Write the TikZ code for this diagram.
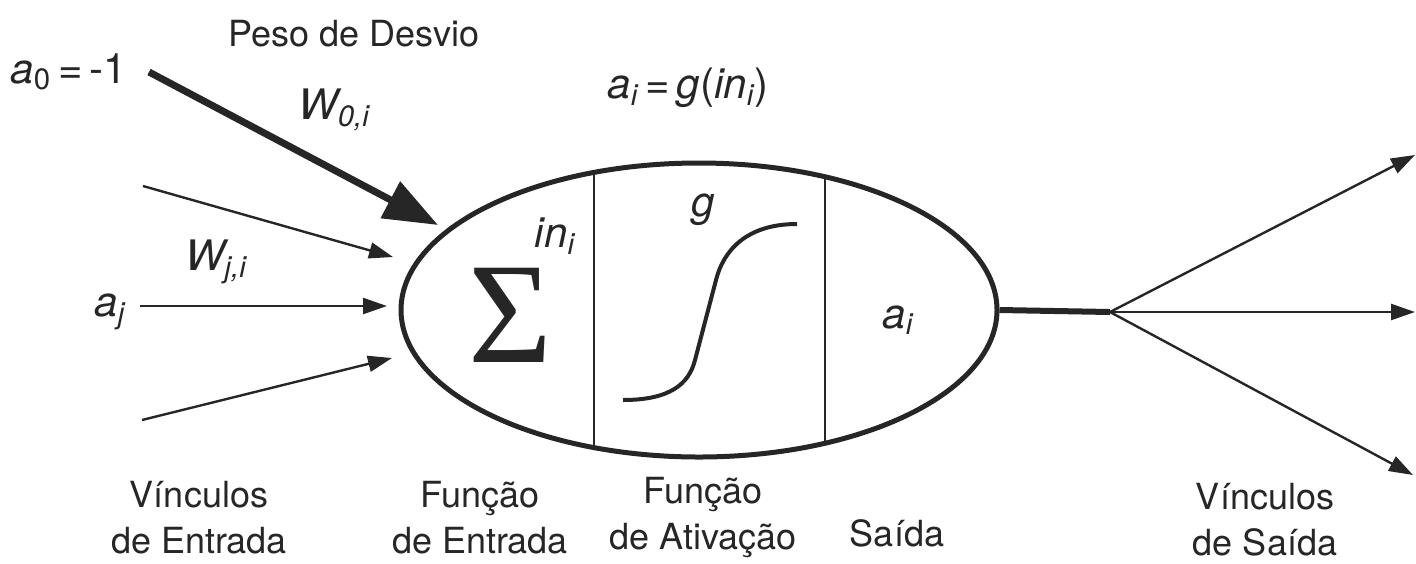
\documentclass[tikz,border=0pt]{standalone}
\usepackage{amsmath}
\usepackage{fontspec}
\setsansfont{TeX Gyre Heros}
\newfontfamily\sigmafont{Liberation Serif}
\usetikzlibrary{shapes.geometric,arrows.meta,positioning}

\newcommand{\vsub}[2]{$\textit{#1}_{\textit{#2}}$}

\begin{document}
\begin{tikzpicture}[
    x=0.5pt, y=-0.5pt,
    every node/.style={font=\sffamily\fontsize{18}{23}\selectfont, inner sep=0pt, text=black!85},
    lbl/.style={align=center},
    ital/.style={font=\sffamily\fontsize{21}{25}\selectfont},
    link/.style={-{Triangle[length=12pt, width=8pt]}, line width=1.2pt, draw=black!85},
    bias/.style={-{Triangle[length=27pt, width=20pt]}, line width=3.5pt, draw=black!85},
    unit/.style={draw=black!85, ellipse, line width=2.5pt, minimum width=298pt, minimum height=147pt}
  ]
    \useasboundingbox (0,0) rectangle (1416,563);

    \node[unit] (neuron) at (699,310) {};
    \node[ital, anchor=west] (a0) at (10,72) {$\textit{a}_{\text{0}}$\,=\,-1};
    \node (peso)        at (354,34)  {Peso de Desvio};
    \node[ital] (w0)    at (334,110) {\vsub{W}{0,i}};
    \node[ital] (title) at (688,88)  {\vsub{a}{i}\,=\,\textit{g}(\vsub{in}{i})};
    \node[ital] (wji)   at (216,262) {\vsub{W}{j,i}};
    \node[ital] (aj)    at (110,312) {\vsub{a}{j}};
    \node (sigma) at (510,315) {\sigmafont\fontsize{72}{72}\selectfont Σ};
    \node[ital] (in)    at (555,236) {\vsub{in}{i}};
    \node[ital] (g)     at (703,210) {\textit{g}};
    \node[ital] (ai)    at (898,320) {\vsub{a}{i}};

    \node[lbl] (vin)  at (199,518)  {Vínculos\\de Entrada};
    \node[lbl] (fin)  at (480,518)  {Função\\de Entrada};
    \node[lbl] (fat)  at (703,518)  {Função\\de Ativação};
    \node      (said) at (897,533)  {Saída};
    \node[lbl] (vout) at (1265,520) {Vínculos\\de Saída};

    % dividers inside the unit
    \coordinate (d1t) at (594,173);
    \coordinate (d1b) at (594,447);
    \coordinate (d2t) at (825,177);
    \coordinate (d2b) at (825,443);
    \draw[line width=1pt, black!85] (d1t) -- (d1b);
    \draw[line width=1pt, black!85] (d2t) -- (d2b);

    % activation curve
    \draw[line width=2pt, black!85] (623,400)
        .. controls (670,400) and (689,384) .. (695,360) -- (716,280)
        .. controls (723,252) and (745,224) .. (797,224);

    % input links
    \coordinate (b0) at (149,72);
    \coordinate (bt) at (438,225);
    \coordinate (x1) at (143,186);
    \coordinate (t1) at (393,257);
    \coordinate (x2) at (140,306);
    \coordinate (t2) at (387,306);
    \coordinate (x3) at (142,420);
    \coordinate (t3) at (392,358);
    \draw[bias] (b0) -- (bt);
    \draw[link] (x1) -- (t1);
    \draw[link] (x2) -- (t2);
    \draw[link] (x3) -- (t3);

    % output links
    \coordinate (fork) at (1110,312);
    \coordinate (o1) at (1415,155);
    \coordinate (o2) at (1415,312);
    \coordinate (o3) at (1413,475);
    \draw[line width=3pt, black!85] (neuron.east) -- (fork);
    \draw[link] (fork) -- (o1);
    \draw[link] (fork) -- (o2);
    \draw[link] (fork) -- (o3);
\end{tikzpicture}
\end{document}
